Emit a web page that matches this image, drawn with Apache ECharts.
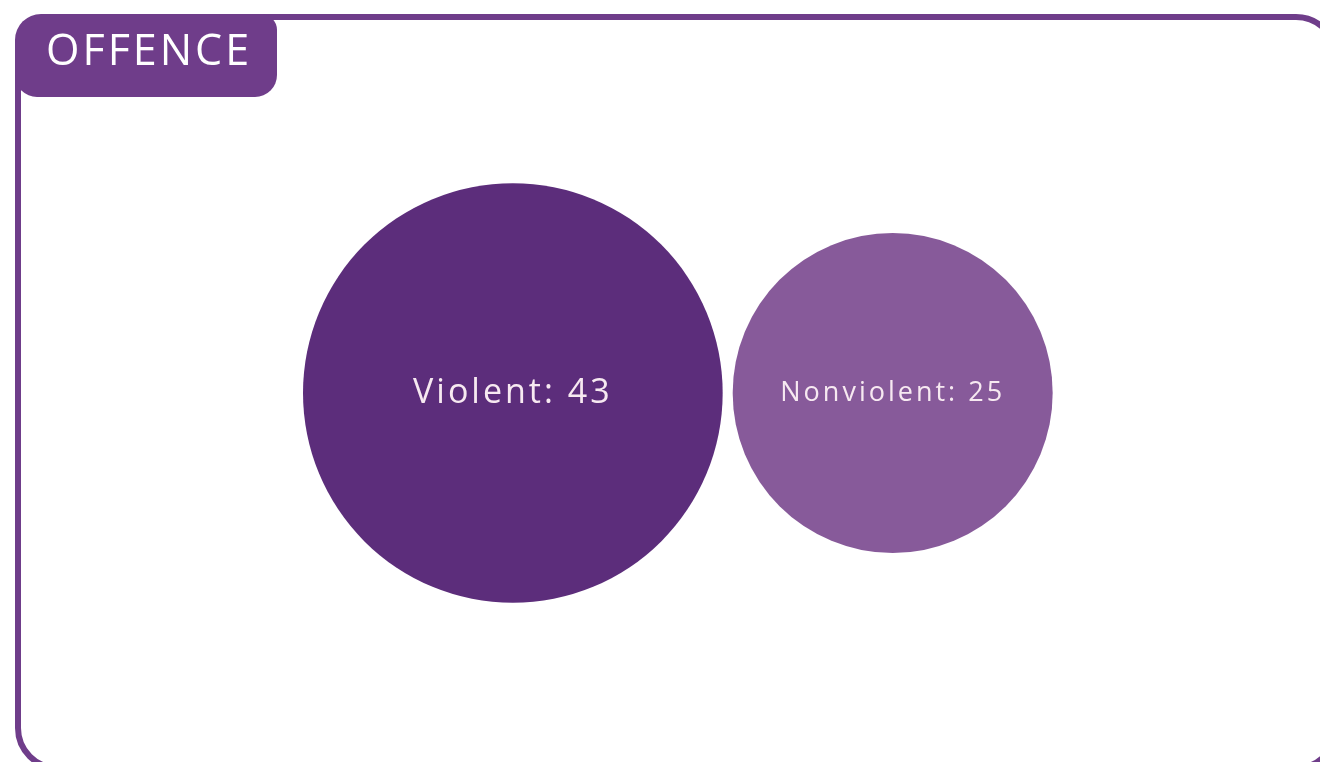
<!DOCTYPE html>
<html>
<head>
<meta charset="utf-8">
<style>
  html, body { margin: 0; padding: 0; background: #ffffff; }
  #chart { width: 1320px; height: 762px; }
</style>
<script src="https://cdn.jsdelivr.net/npm/echarts@6/dist/echarts.min.js"></script>
</head>
<body>
<div id="chart"></div>
<script>
// Offence categories and counts
const categories = ['Violent', 'Nonviolent'];
const counts = [43, 25];
const circleColors = ['#5c2d7b', '#875a9a'];
const labelSizes = [34, 27];
const panelTitle = 'OFFENCE';

// Slightly open tracking for all canvas text
const TRACKING = '3px';
const baseFillText = CanvasRenderingContext2D.prototype.fillText;
CanvasRenderingContext2D.prototype.fillText = function (text, x, y, maxWidth) {
  const prev = this.letterSpacing;
  this.letterSpacing = TRACKING;
  if (maxWidth === undefined) baseFillText.call(this, text, x, y);
  else baseFillText.call(this, text, x, y, maxWidth);
  this.letterSpacing = prev;
};

// Bubble area proportional to count
const SCALE = 64;        // diameter per sqrt(count)
const GAP = 10;          // space between neighbouring bubbles
const diameters = counts.map(v => SCALE * Math.sqrt(v));

// Pack bubbles side by side along a pixel-unit axis
const centers = [];
let cursor = 303;
diameters.forEach(d => { centers.push(cursor + d / 2); cursor += d + GAP; });

const points = categories.map((name, i) => ({
  name: name,
  value: [centers[i], 393, counts[i]],
  symbolSize: diameters[i],
  itemStyle: { color: circleColors[i] },
  label: { fontSize: labelSizes[i] }
}));

const chart = echarts.init(document.getElementById('chart'), null, { renderer: 'canvas' });
chart.setOption({
  animation: false,
  backgroundColor: '#ffffff',
  grid: { left: 0, right: 0, top: 0, bottom: 0 },
  xAxis: { type: 'value', min: 0, max: 1320, show: false },
  yAxis: { type: 'value', min: 0, max: 762, inverse: true, show: false },
  graphic: [
    {
      type: 'rect', z: 0,
      shape: { x: 18, y: 17, width: 1318, height: 751, r: 40 },
      style: { fill: 'none', stroke: '#6f3d8a', lineWidth: 6 }
    },
    {
      type: 'rect', z: 1,
      shape: { x: 15, y: 14, width: 262, height: 83, r: [26, 16, 22, 22] },
      style: { fill: '#6f3d8a' }
    },
    {
      type: 'text', z: 2, x: 46, y: 53,
      style: {
        text: panelTitle, fill: '#ffffff',
        font: '43px "Open Sans", sans-serif', verticalAlign: 'middle'
      }
    }
  ],
  series: [{
    type: 'scatter',
    data: points,
    itemStyle: { opacity: 1 },
    label: {
      show: true,
      position: 'inside',
      color: '#f7e9f1',
      fontFamily: '"Open Sans", sans-serif',
      formatter: p => p.name + ': ' + p.value[2]
    },
    emphasis: { disabled: true }
  }]
});
</script>
</body>
</html>
